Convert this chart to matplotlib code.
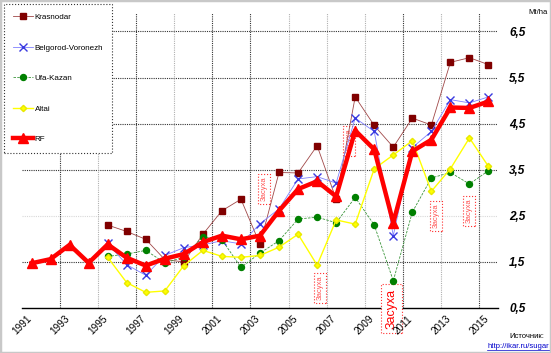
import numpy as np
import matplotlib
matplotlib.use("Agg")
import matplotlib.pyplot as plt
from matplotlib.patches import Rectangle

plt.rcParams['font.family'] = ['Liberation Sans', 'DejaVu Sans']

# Data (Mt/ha)
years = list(range(1991, 2016))
years_reg = list(range(1995, 2016))

rf = [1.47, 1.56, 1.87, 1.48, 1.88, 1.59, 1.42, 1.57, 1.67, 1.93, 2.07, 1.99, 2.07,
      2.61, 3.08, 3.25, 2.92, 4.35, 3.94, 2.35, 3.90, 4.15, 4.85, 4.84, 4.98]
krasnodar = [2.30, 2.16, 1.99, 1.55, 1.50, 2.10, 2.61, 2.86, 1.88, 3.44, 3.43, 4.02,
             2.86, 5.08, 4.46, 3.99, 4.62, 4.47, 5.83, 5.93, 5.78]
belgorod = [1.90, 1.44, 1.21, 1.64, 1.81, 1.87, 1.96, 1.89, 2.33, 2.65, 3.30, 3.35,
            3.21, 4.62, 4.33, 2.07, 3.98, 4.33, 5.02, 4.95, 5.08]
ufa = [1.62, 1.67, 1.75, 1.48, 1.60, 2.05, 1.98, 1.38, 1.69, 1.96, 2.43, 2.47,
       2.35, 2.90, 2.30, 1.09, 2.58, 3.32, 3.44, 3.19, 3.48]
altai = [1.60, 1.05, 0.84, 0.87, 1.42, 1.75, 1.62, 1.60, 1.64, 1.82, 2.10, 1.43,
         2.41, 2.32, 3.52, 3.82, 4.13, 3.03, 3.52, 4.19, 3.57]

ytick_vals = [0.5, 1.5, 2.5, 3.5, 4.5, 5.5, 6.5]
ytick_labels = ['0,5', '1,5', '2,5', '3,5', '4,5', '5,5', '6,5']
xtick_years = list(range(1991, 2016, 2))

# drought notes: (x, y, fontsize, big)
notes = [(2003.70, 3.09, 5.5, False), (2006.64, 0.93, 5.5, False),
         (2008.19, 4.13, 5.5, False), (2010.42, 0.49, 9, True),
         (2012.73, 2.50, 5.5, False), (2014.49, 2.61, 5.5, False)]

fig = plt.figure(figsize=(5.51, 3.53), dpi=100)
ax = fig.add_axes([22 / 551, 1 - 308 / 353, 476 / 551, 295 / 353])

x_all = np.array(years) + 0.5
x_reg = np.array(years_reg) + 0.5

ax.set_xlim(1991, 2016)
ax.set_ylim(0.5, 6.9)

# grid
for v in ytick_vals[1:]:
    col = '#d8d8d8' if v == 2.5 else '#333333'
    ax.axhline(v, color=col, ls=(0, (1, 1)), lw=0.8, zorder=1)
dark_years = [1993, 1997, 2001, 2003, 2011, 2015]
for yv in xtick_years[1:]:
    col = '#333333' if yv in dark_years else '#b0b0b0'
    ax.axvline(yv, color=col, ls=(0, (1, 1)), lw=0.8, zorder=1)

ax.plot(x_reg, krasnodar, color='#a04848', lw=0.6, marker='s', ms=3.8,
        mfc='#800000', mec='#800000', label='Krasnodar', zorder=4)
ax.plot(x_reg, belgorod, color='#8080ff', lw=0.6, marker='x', ms=5.5, mew=1.0,
        mec='#3a3ae0', label='Belgorod-Voronezh', zorder=4)
ax.plot(x_reg, ufa, color='#3c963c', lw=0.6, ls=(0, (3, 1.5)), marker='o', ms=4.3,
        mfc='#008000', mec='#008000', label='Ufa-Kazan', zorder=4)
ax.plot(x_reg, altai, color='#ffff00', lw=1.0, marker='D', ms=3.2,
        mfc='#ffff00', mec='#e8e800', label='Altai', zorder=4)
ax.plot(x_all, rf, color='#ff0000', lw=3.2, marker='^', ms=7,
        mfc='#ff0000', mec='#ff0000', label='RF', zorder=5)

for nx, ny, fs, big in notes:
    ax.text(nx, ny, 'Засуха', rotation=90, ha='center', va='center', fontsize=fs,
            color='#ff0000' if big else '#ff5050', zorder=3, clip_on=False,
            bbox=dict(boxstyle='square,pad=0.35', fc='white', ec='#ff3030',
                      ls=':', lw=0.8))

ax.set_xticks(xtick_years)
ax.set_xticklabels([str(y) for y in xtick_years], rotation=45, fontsize=7.2)
ax.tick_params(axis='x', length=0, pad=4)
ax.xaxis.set_zorder(3.5)
ax.yaxis.tick_right()
ax.set_yticks(ytick_vals)
ax.set_yticklabels(ytick_labels, fontsize=8.5, fontweight='bold', style='italic')
ax.tick_params(axis='y', length=0, pad=8)

for s in ['top', 'left', 'right']:
    ax.spines[s].set_visible(False)
ax.spines['bottom'].set_color('black')
ax.spines['bottom'].set_linewidth(1.0)

leg = fig.legend(loc='upper left', bbox_to_anchor=(4 / 551, 1 - 4 / 353),
                 borderaxespad=0, fontsize=5.8, labelspacing=2.85, handlelength=2.5,
                 handletextpad=0.15, borderpad=1.15, fancybox=False, framealpha=1,
                 numpoints=1)
leg.get_frame().set_edgecolor('#333333')
leg.get_frame().set_linestyle(':')
leg.get_frame().set_linewidth(0.8)

fig.text(548 / 551, 1 - 13 / 353, 'Mt/ha', ha='right', va='center', fontsize=5.5)
fig.text(544 / 551, 1 - 337 / 353, 'Источник:', ha='right', va='center', fontsize=5.5)
fig.text(549 / 551, 1 - 346 / 353, 'http://ikar.ru/sugar', ha='right', va='center',
         fontsize=5.5, color='#0000cc', url='http://ikar.ru/sugar')
fig.add_artist(plt.Line2D([487 / 551, 549 / 551], [1 - 350 / 353, 1 - 350 / 353],
                          color='#0000cc', lw=0.5))

fig.add_artist(Rectangle((0, 0), 1, 1, transform=fig.transFigure, fill=False,
                         ec='#c8c8c8', lw=2.5))

fig.savefig('out.png', dpi=100)
